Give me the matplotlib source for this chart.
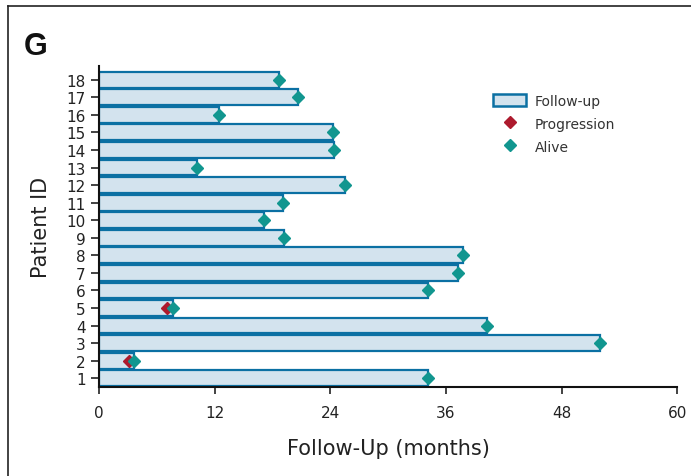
import matplotlib.pyplot as plt
from matplotlib.patches import Patch
from matplotlib.lines import Line2D

# follow-up per patient (months)
patients = list(range(1, 19))
follow_up = [34.1, 3.6, 52.0, 40.3, 7.7, 34.1, 37.3, 37.8, 19.2,
             17.1, 19.1, 25.5, 10.2, 24.4, 24.3, 12.4, 20.7, 18.7]
# progression events
prog_patients = [2, 5]
prog_times = [3.1, 7.1]
# alive at last follow-up (all patients)
alive_patients = patients
alive_times = follow_up

xticks = [0, 12, 24, 36, 48, 60]

bar_face = '#d3e3ee'
bar_edge = '#0b70a3'
alive_col = '#11968f'
prog_col = '#ad1a2d'

plt.rcParams['font.family'] = ['DejaVu Sans']

fig = plt.figure(figsize=(6.91, 4.77), dpi=100)
ax = fig.add_axes([0.1433, 0.1866, 0.98 - 0.1433, 0.8595 - 0.1866])

ax.barh(patients, follow_up, height=0.9, color=bar_face, edgecolor=bar_edge,
        linewidth=1.6, zorder=2)
ax.plot(prog_times, prog_patients, 'D', color=prog_col, markersize=6.5, zorder=3)
ax.plot(alive_times, alive_patients, 'D', color=alive_col, markersize=6.5, zorder=4)

ax.set_xlim(0, 60)
ax.set_ylim(0.5, 18.78)
ax.set_xticks(xticks)
ax.set_yticks(patients)
ax.tick_params(axis='both', labelsize=11, direction='out', length=5, width=1.2,
               colors='#222222')
ax.tick_params(axis='x', pad=8)
ax.tick_params(axis='y', length=6)
for s in ['top', 'right']:
    ax.spines[s].set_visible(False)
for s in ['left', 'bottom']:
    ax.spines[s].set_linewidth(1.5)
    ax.spines[s].set_color('#111111')

ax.set_xlabel('Follow-Up (months)', fontsize=15, color='#222222', labelpad=13)
ax.set_ylabel('Patient ID', fontsize=15, color='#222222', labelpad=11)

handles = [
    Patch(facecolor=bar_face, edgecolor=bar_edge, linewidth=1.8, label='Follow-up'),
    Line2D([], [], marker='D', color=prog_col, linestyle='', markersize=6, label='Progression'),
    Line2D([], [], marker='D', color=alive_col, linestyle='', markersize=6, label='Alive'),
]
ax.legend(handles=handles, loc='upper left', bbox_to_anchor=(0.66, 0.952),
          frameon=False, fontsize=10, handlelength=2.4, handleheight=1.0,
          handletextpad=0.6, labelspacing=0.65, labelcolor='#333333')

fig.text(0.035, 0.885, 'G', fontsize=22, fontweight='bold', color='#111111',
         family=['Liberation Sans', 'DejaVu Sans'])

# panel frame (top and left edges)
fig.add_artist(Line2D([0.012, 1.0], [0.985, 0.985], color='#222222', linewidth=1.2))
fig.add_artist(Line2D([0.012, 0.012], [0.0, 0.985], color='#222222', linewidth=1.2))

fig.savefig('out.png', dpi=100)
